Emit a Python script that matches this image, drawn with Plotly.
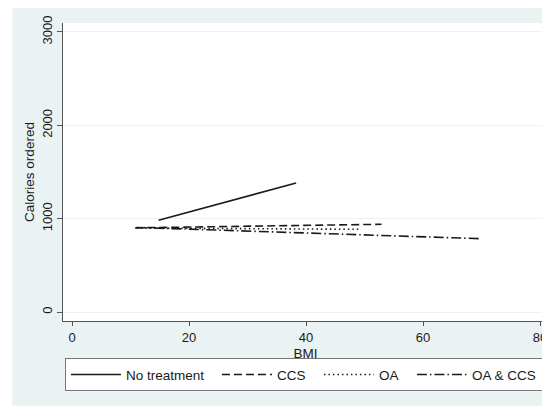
import plotly.graph_objects as go

# Data (linear fits): BMI endpoints and fitted calories
series_names = ["No treatment", "CCS", "OA", "OA & CCS"]
bmi_no_treatment = [14.8, 38.3]
cal_no_treatment = [983, 1383]
bmi_ccs = [10.8, 52.9]
cal_ccs = [902, 940]
bmi_oa = [11.0, 49.2]
cal_oa = [900, 886]
bmi_oa_ccs = [11.0, 69.7]
cal_oa_ccs = [906, 786]

x_ticks = [0, 20, 40, 60, 80]
y_ticks = [0, 1000, 2000, 3000]

BG = "#EAF2F3"
FONT = "Liberation Sans, Arial, sans-serif"

fig = go.Figure()
dashes = ["solid", "8px,4px", "1.5px,3px", "10px,3px,1.5px,3px"]
legend_widths = [86, 37, 28, 66]
data = [
    (bmi_no_treatment, cal_no_treatment),
    (bmi_ccs, cal_ccs),
    (bmi_oa, cal_oa),
    (bmi_oa_ccs, cal_oa_ccs),
]
for name, (xs, ys), dash, lw in zip(series_names, data, dashes, legend_widths):
    fig.add_trace(go.Scatter(
        x=xs, y=ys, mode="lines", name=name,
        line=dict(color="#1a1a1a", width=1.6, dash=dash),
        legendwidth=lw,
    ))

# thin white strip at the far left, outside the graph region
fig.add_shape(type="rect", xref="paper", yref="paper",
              x0=-0.2, x1=-0.1045, y0=-0.4, y1=1.2,
              fillcolor="white", line_width=0, layer="below")

fig.update_layout(
    width=542, height=398,
    margin=dict(l=55, r=2, t=15, b=85),
    paper_bgcolor=BG,
    plot_bgcolor="white",
    font=dict(family=FONT, size=13, color="#1a1a1a"),
    showlegend=True,
    legend=dict(
        orientation="h",
        x=0.004, xanchor="left",
        y=-0.125, yanchor="top",
        bgcolor="white",
        bordercolor="#777777", borderwidth=1,
        font=dict(family=FONT, size=13.5, color="#1a1a1a"),
        tracegroupgap=0,
        itemwidth=50,
    ),
    xaxis=dict(
        range=[-1.54, 81.35],
        tickvals=x_ticks,
        showgrid=False, zeroline=False,
        showline=True, linecolor="#555555", linewidth=1,
        ticks="outside", ticklen=4, tickcolor="#555555",
        tickfont=dict(size=13),
        automargin=False,
        title=dict(text="BMI", font=dict(size=13.5), standoff=4),
    ),
    yaxis=dict(
        range=[-96, 3096],
        tickvals=y_ticks,
        tickangle=-90,
        showgrid=True, gridcolor=BG, gridwidth=1.2,
        zeroline=False,
        showline=True, linecolor="#555555", linewidth=1,
        ticks="outside", ticklen=5, tickcolor="#555555",
        tickfont=dict(size=13),
        automargin=False,
        title=dict(text="Calories ordered", font=dict(size=13.5), standoff=2),
    ),
)

fig.write_html("out.html")
